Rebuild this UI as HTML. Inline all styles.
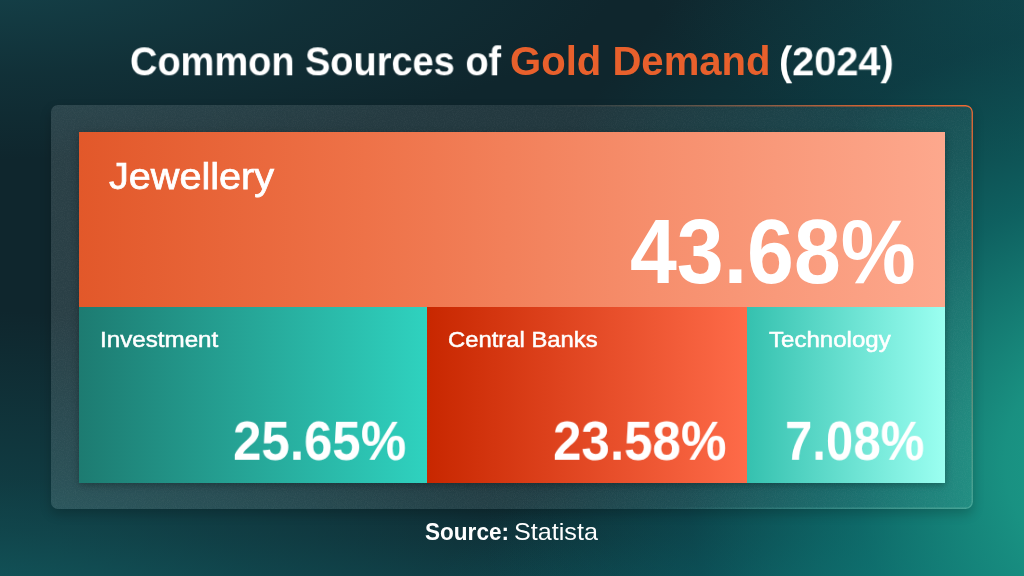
<!DOCTYPE html>
<html lang="en">
<head>
<meta charset="utf-8">
<title>Common Sources of Gold Demand (2024)</title>
<style>
html,body{margin:0;padding:0;}
body{width:1024px;height:576px;overflow:hidden;position:relative;font-family:"Liberation Sans",sans-serif;color:#fff;
background:
 radial-gradient(ellipse 640px 640px at 1120px 460px, rgba(28,160,140,1) 0%, rgba(26,152,135,.93) 18%, rgba(14,126,122,.66) 42%, rgba(8,100,108,.30) 68%, rgba(8,90,100,0) 100%),
 radial-gradient(ellipse 600px 240px at 1010px 640px, rgba(20,130,124,.65) 0%, rgba(12,108,112,.3) 55%, rgba(10,90,98,0) 100%),
 radial-gradient(ellipse 680px 340px at -40px 650px, rgba(19,98,102,.8) 0%, rgba(18,88,94,.42) 50%, rgba(18,80,85,0) 100%),
 radial-gradient(ellipse 420px 200px at 1060px -40px, rgba(22,84,88,.55) 0%, rgba(20,72,78,.25) 55%, rgba(20,64,72,0) 100%),
 radial-gradient(ellipse 640px 190px at -20px -30px, rgba(22,72,80,.85) 0%, rgba(20,64,72,.4) 55%, rgba(20,64,72,0) 100%),
 linear-gradient(0deg, rgba(15,74,82,.46) 0%, rgba(15,70,78,.2) 7%, rgba(15,66,74,0) 17%),
 #0f262d;
}
h1,p{margin:0;padding:0;font-size:0;font-weight:400;}
.t{position:absolute;display:block;white-space:nowrap;line-height:1;transform-origin:left top;font-weight:400;}
#panel{position:absolute;left:51px;top:105px;width:922px;height:404px;border-radius:7px;box-sizing:border-box;
 background:linear-gradient(90deg,rgba(240,250,255,.122) 0%,rgba(245,250,252,.085) 50%,rgba(225,255,245,.055) 100%);
 box-shadow:0 5px 12px rgba(0,0,0,.2);overflow:hidden;}
#panel svg{position:absolute;left:0;top:0;}
.blk{position:absolute;}
#b1{left:79px;top:132px;width:866px;height:176px;background:linear-gradient(90deg,#e2582a 0%,#ee7248 33%,#f68e6c 66%,#fda88d 100%);}
#b2{left:79px;top:307px;width:347.5px;height:176px;background:linear-gradient(90deg,#1d7b71 0%,#2fd2bf 100%);}
#b3{left:426.5px;top:307px;width:320px;height:176px;background:linear-gradient(90deg,#c82700 0%,#fe6b49 100%);}
#b4{left:746.5px;top:307px;width:198.5px;height:176px;background:linear-gradient(90deg,#35c1af 0%,#9bfff1 100%);}
#sh{position:absolute;left:79px;top:132px;width:866px;height:351px;box-shadow:0 2px 7px rgba(0,0,0,.28);}
</style>
</head>
<body>
<div id="panel">
<svg width="922" height="404" viewBox="0 0 922 404">
 <defs>
  <filter id="nz" x="0" y="0" width="100%" height="100%">
   <feTurbulence type="fractalNoise" baseFrequency="0.9" numOctaves="2" seed="3" result="n"/>
   <feColorMatrix type="matrix" values="0 0 0 0 1  0 0 0 0 1  0 0 0 0 1  0.9 0 0 0 -0.32"/>
  </filter>
  <radialGradient id="bo" gradientUnits="userSpaceOnUse" cx="922" cy="0" r="430">
   <stop offset="0" stop-color="#ee6a34" stop-opacity="1"/>
   <stop offset="0.25" stop-color="#e8652f" stop-opacity=".9"/>
   <stop offset="0.6" stop-color="#c8714a" stop-opacity=".45"/>
   <stop offset="1" stop-color="#9a8a70" stop-opacity="0"/>
  </radialGradient>
  <radialGradient id="bt" gradientUnits="userSpaceOnUse" cx="922" cy="404" r="330">
   <stop offset="0" stop-color="#7fe0cd" stop-opacity=".3"/>
   <stop offset="0.5" stop-color="#7fe0cd" stop-opacity=".2"/>
   <stop offset="1" stop-color="#7fe0cd" stop-opacity="0"/>
  </radialGradient>
 </defs>
 <rect x="0" y="0" width="922" height="404" rx="7" fill="#fff" opacity=".09" filter="url(#nz)"/>
 <rect x="0.75" y="0.75" width="920.5" height="402.5" rx="6.5" fill="none" stroke="url(#bt)" stroke-width="1.3"/>
 <rect x="0.75" y="0.75" width="920.5" height="402.5" rx="6.5" fill="none" stroke="url(#bo)" stroke-width="1.3"/>
</svg>
</div>
<div id="sh"></div>
<section class="blk" id="b1">
 <span class="t" id="j1" style="left:29.63px;top:26.18px;font-size:37px;transform:scaleX(1.0703);-webkit-text-stroke:0.75px #fff;">Jewellery</span>
 <strong class="t" id="j2" style="left:550.73px;top:74.92px;font-size:90px;font-weight:700;transform:scaleX(0.9357);">43.68%</strong>
</section>
<section class="blk" id="b2">
 <span class="t" id="i1" style="left:21.2px;top:22.02px;font-size:22.3px;will-change:transform;transform:translateY(-0.2px) scaleX(1.0847);-webkit-text-stroke:0.5px #fff;">Investment</span>
 <strong class="t" id="i2" style="left:154.34px;top:107.04px;font-size:55px;font-weight:700;will-change:transform;transform:translateY(-0.2px) scaleX(0.9279);">25.65%</strong>
</section>
<section class="blk" id="b3">
 <span class="t" id="c1" style="left:21.8px;top:22.02px;font-size:22.3px;will-change:transform;transform:translateY(-0.2px) scaleX(1.0681);-webkit-text-stroke:0.5px #fff;">Central Banks</span>
 <strong class="t" id="c2" style="left:126.04px;top:107.04px;font-size:55px;font-weight:700;will-change:transform;transform:translateY(-0.2px) scaleX(0.929);">23.58%</strong>
</section>
<section class="blk" id="b4">
 <span class="t" id="k1" style="left:22.53px;top:21.82px;font-size:22.3px;will-change:transform;transform:translateY(-0.3px) scaleX(1.0794);-webkit-text-stroke:0.5px #fff;">Technology</span>
 <strong class="t" id="k2" style="left:38.19px;top:107.04px;font-size:55px;font-weight:700;will-change:transform;transform:translateY(-0.2px) scaleX(0.8939);">7.08%</strong>
</section>
<h1>
 <span class="t" id="t1" style="left:130.04px;top:41.74px;font-size:40px;font-weight:700;will-change:transform;transform:translateY(-0.7px) scaleX(0.9488);">Common Sources of</span>
 <span class="t" id="t2" style="left:509.95px;top:41.74px;font-size:40px;font-weight:700;color:#e8602c;will-change:transform;transform:translateY(-0.7px) scaleX(1.002);">Gold Demand</span>
 <span class="t" id="t3" style="left:779.42px;top:41.74px;font-size:40px;font-weight:700;will-change:transform;transform:translateY(-0.7px) scaleX(0.9924);">(2024)</span>
</h1>
<p>
 <strong class="t" id="s1" style="left:424.99px;top:519.58px;font-size:24px;font-weight:700;transform:scaleX(0.9403);">Source:</strong>
 <span class="t" id="s2" style="left:513.69px;top:519.58px;font-size:24px;transform:scaleX(1.0489);">Statista</span>
</p>
</body>
</html>
